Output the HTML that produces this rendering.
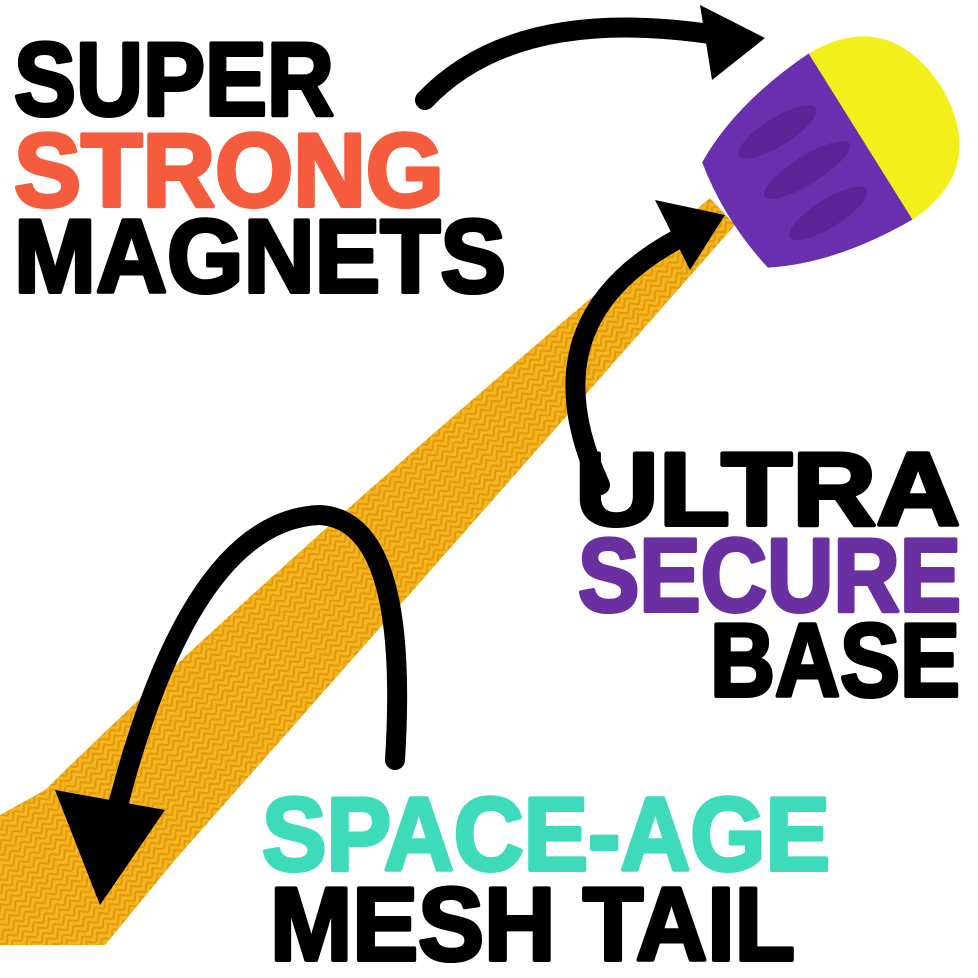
<!DOCTYPE html>
<html><head><meta charset="utf-8"><style>
html,body{margin:0;padding:0;background:#fff;}
svg{display:block}
text{font-family:"Liberation Sans",Arial,sans-serif;font-weight:bold;stroke-width:4;stroke-linejoin:round;}
</style></head><body>
<svg width="978" height="978" viewBox="0 0 978 978" xmlns="http://www.w3.org/2000/svg">
<defs>
<pattern id="mesh" width="14" height="14" patternUnits="userSpaceOnUse" patternTransform="rotate(-40)">
<rect width="14" height="14" fill="#f6b51e"/>
<path d="M0 7 L7 0 L14 7 M0 14 L7 7 L14 14" stroke="#e09a0c" stroke-width="2" fill="none"/>
</pattern>
</defs>
<path d="M0 815 L45 790 Q300 540 710 198 L735 225 Q440 560 175 860 L105 945 L0 945 Z" fill="url(#mesh)"/>
<g transform="translate(735,215) rotate(-32)">
<path d="M0,-62 Q-12,0 0,62 Q60,95 150,98 L150,-98 Q60,-95 0,-62 Z" fill="#6a2fae"/>
<path d="M148,-98 Q240,-95 243,0 Q240,95 148,98 Z" fill="#f2ef1a"/>
<ellipse cx="80" cy="-48" rx="45" ry="14" fill="#5a2496"/>
<ellipse cx="85" cy="0" rx="50" ry="14" fill="#5a2496"/>
<ellipse cx="80" cy="48" rx="45" ry="14" fill="#5a2496"/>
</g>
<g fill="none" stroke="#000" stroke-width="20" stroke-linecap="round">
<path d="M425 100 Q520 0 735 38"/>
<path d="M600 485 Q520 310 700 228"/>
<path d="M395 760 Q410 520 320 515 Q180 520 105 860"/>
</g>
<g fill="#000">
<polygon points="700,5 765,38 712,80"/>
<polygon points="655,200 725,215 690,270"/>
<polygon points="55,790 100,905 165,810"/>
</g>
<text x="14" y="115" font-size="104" textLength="320" lengthAdjust="spacingAndGlyphs" fill="#000" stroke="#000">SUPER</text>
<text x="14" y="206" font-size="104" textLength="430" lengthAdjust="spacingAndGlyphs" fill="#f55c3e" stroke="#f55c3e">STRONG</text>
<text x="14" y="292" font-size="104" textLength="492" lengthAdjust="spacingAndGlyphs" fill="#000" stroke="#000">MAGNETS</text>
<text x="575" y="525" font-size="104" textLength="385" lengthAdjust="spacingAndGlyphs" fill="#000" stroke="#000">ULTRA</text>
<text x="578" y="611" font-size="104" textLength="383" lengthAdjust="spacingAndGlyphs" fill="#6a2fa0" stroke="#6a2fa0">SECURE</text>
<text x="710" y="696" font-size="104" textLength="250" lengthAdjust="spacingAndGlyphs" fill="#000" stroke="#000">BASE</text>
<text x="262" y="870" font-size="104" textLength="568" lengthAdjust="spacingAndGlyphs" fill="#3ddbb9" stroke="#3ddbb9">SPACE-AGE</text>
<text x="270" y="960" font-size="104" textLength="525" lengthAdjust="spacingAndGlyphs" fill="#000" stroke="#000">MESH TAIL</text>
</svg>
</body></html>
